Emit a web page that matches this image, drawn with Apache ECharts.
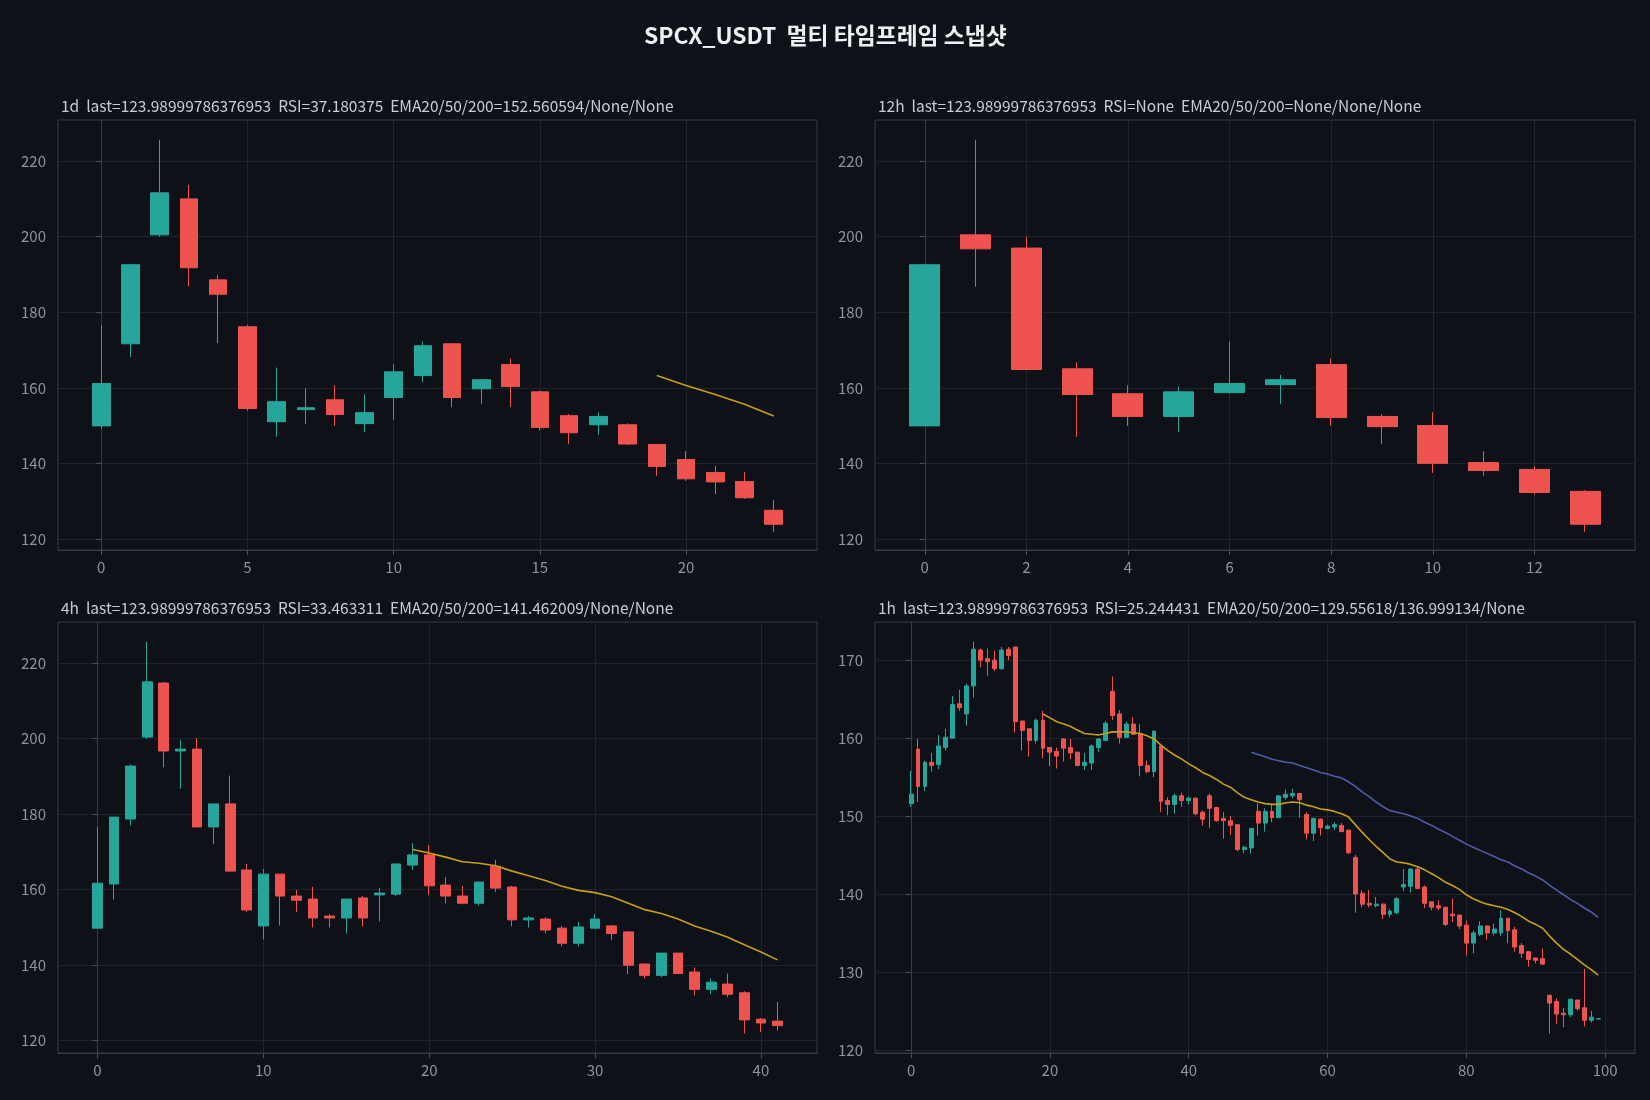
<!DOCTYPE html>
<html>
<head>
<meta charset="utf-8">
<title>SPCX_USDT multi timeframe</title>
<script src="https://cdn.jsdelivr.net/npm/echarts@6/dist/echarts.min.js"></script>
<style>
  html, body { margin: 0; padding: 0; background: #0e1117; }
  #chart { width: 1650px; height: 1100px; }
</style>
</head>
<body>
<div id="chart"></div>
<script>
// candles are [open, close, low, high], x = row index
const candles1d = [
  [150.0, 161.2, 149.3, 176.6], [171.7, 192.6, 168.2, 192.8], [200.5, 211.6, 200.0, 225.6],
  [210.0, 191.8, 186.9, 213.7], [188.6, 184.8, 171.9, 189.9], [176.2, 154.6, 154.0, 176.7],
  [151.1, 156.4, 147.1, 165.4], [154.3, 154.8, 150.5, 159.9], [156.9, 153.0, 150.0, 160.7],
  [150.6, 153.5, 148.4, 158.3], [157.5, 164.3, 151.6, 166.3], [163.3, 171.2, 161.6, 172.3],
  [171.7, 157.5, 155.0, 171.8], [159.8, 162.2, 155.8, 162.4], [166.2, 160.4, 155.0, 167.8],
  [159.0, 149.6, 148.8, 159.3], [152.7, 148.2, 145.2, 153.1], [150.3, 152.5, 147.6, 153.6],
  [150.3, 145.2, 144.9, 150.7], [145.1, 139.3, 136.8, 145.2], [141.1, 136.0, 135.5, 143.3],
  [137.7, 135.2, 132.0, 139.4], [135.3, 131.0, 130.7, 137.8], [127.7, 124.0, 122.0, 130.4]
];
const ema20_1d_start = 19;
const ema20_1d = [163.3, 160.7, 158.3, 155.7, 152.6];

const candles12h = [
  [150.0, 192.6, 150.0, 192.8], [200.5, 196.8, 186.8, 225.6], [197.0, 164.9, 164.9, 200.0],
  [165.1, 158.3, 147.1, 166.8], [158.5, 152.5, 150.0, 160.7], [152.5, 159.0, 148.4, 160.4],
  [158.8, 161.2, 158.5, 172.3], [160.9, 162.2, 155.8, 163.5], [166.2, 152.2, 150.0, 167.8],
  [152.5, 149.8, 145.2, 153.1], [150.1, 140.1, 137.6, 153.6], [140.3, 138.2, 136.8, 143.3],
  [138.5, 132.4, 131.8, 139.4], [132.7, 124.0, 122.0, 133.0]
];

const candles4h = [
  [149.8, 161.7, 149.8, 176.6], [161.5, 179.2, 157.4, 179.2], [178.7, 192.7, 177.0, 193.1],
  [200.4, 215.0, 199.9, 225.6], [214.7, 196.7, 192.4, 215.0], [196.7, 197.2, 186.7, 199.7],
  [197.2, 176.6, 176.6, 200.1], [176.6, 182.7, 172.0, 182.7], [182.7, 164.9, 164.9, 190.2],
  [165.2, 154.6, 154.1, 166.8], [150.4, 164.1, 146.8, 165.5], [164.1, 158.3, 150.5, 164.1],
  [158.3, 157.2, 154.1, 159.9], [157.5, 152.5, 150.0, 160.7], [153.0, 152.5, 150.0, 153.5],
  [152.5, 157.5, 148.4, 157.5], [157.8, 152.5, 150.3, 158.3], [158.6, 159.1, 151.6, 160.4],
  [158.8, 166.8, 158.3, 166.8], [166.5, 169.2, 165.2, 172.3], [169.2, 161.0, 158.6, 171.8],
  [161.2, 158.3, 156.4, 163.3], [158.3, 156.4, 156.1, 161.0], [156.4, 162.0, 155.8, 162.0],
  [166.2, 160.4, 159.4, 167.9], [160.7, 152.0, 150.3, 161.0], [152.0, 152.5, 150.0, 153.0],
  [152.2, 149.3, 148.4, 152.7], [149.8, 145.8, 145.0, 150.4], [145.8, 150.1, 145.0, 151.4],
  [149.8, 152.2, 149.8, 153.5], [150.4, 148.4, 146.6, 150.6], [148.8, 140.0, 137.6, 149.0],
  [140.3, 137.3, 136.5, 140.3], [137.3, 143.2, 136.8, 143.2], [143.2, 137.8, 137.8, 143.2],
  [138.2, 133.6, 132.0, 139.4], [133.6, 135.5, 132.3, 136.5], [135.0, 132.3, 131.5, 137.8],
  [132.7, 125.5, 121.9, 133.1], [125.7, 124.7, 122.3, 126.0], [125.2, 124.0, 122.7, 130.3]
];
const ema20_4h_start = 19;
const ema20_4h = [
  170.6, 169.7, 168.6, 167.4, 167.0, 166.3, 164.9, 163.7, 162.4, 160.9, 159.8, 159.2,
  158.1, 156.4, 154.7, 153.7, 152.2, 150.4, 149.0, 147.4, 145.4, 143.5, 141.4
];

const candles1h = [
  [151.6, 152.8, 151.2, 155.8], [158.6, 153.8, 151.8, 159.9], [153.8, 156.9, 153.2, 157.1],
  [156.9, 156.5, 155.7, 158.1], [156.6, 159.0, 156.0, 160.4], [158.8, 160.1, 158.4, 161.2],
  [160.0, 164.3, 160.0, 165.4], [164.4, 163.9, 163.5, 166.2], [163.1, 166.7, 161.6, 167.0],
  [166.7, 171.4, 165.2, 172.4], [171.3, 170.0, 169.1, 171.5], [170.2, 169.8, 168.0, 171.5],
  [170.0, 168.9, 168.6, 171.2], [168.9, 171.3, 168.8, 171.7], [171.4, 170.6, 170.0, 171.7],
  [171.7, 162.1, 160.7, 171.7], [162.2, 161.0, 158.4, 162.2], [161.2, 159.7, 157.6, 161.2],
  [159.7, 162.3, 159.3, 162.5], [162.3, 158.7, 157.4, 163.5], [158.8, 158.2, 156.4, 158.8],
  [158.3, 157.7, 156.1, 158.8], [159.9, 158.7, 157.0, 160.0], [158.8, 158.1, 157.3, 159.9],
  [158.2, 156.5, 156.4, 158.2], [156.5, 156.9, 155.9, 158.1], [156.8, 159.0, 155.9, 159.2],
  [158.8, 159.9, 158.2, 160.0], [159.7, 161.9, 159.6, 162.2], [166.0, 162.9, 162.3, 167.9],
  [163.1, 160.1, 159.3, 163.6], [160.1, 161.8, 160.0, 162.1], [161.8, 160.5, 160.4, 162.7],
  [160.6, 156.5, 155.1, 161.8], [156.5, 155.7, 155.5, 157.1], [155.7, 160.9, 155.0, 160.9],
  [159.0, 151.9, 150.5, 159.0], [152.0, 151.5, 150.1, 152.4], [151.5, 152.6, 150.3, 152.9],
  [152.6, 152.0, 151.2, 153.0], [152.0, 152.3, 151.5, 152.5], [152.3, 150.3, 150.1, 152.4],
  [150.5, 149.6, 148.8, 150.7], [152.6, 151.0, 148.5, 152.9], [151.1, 149.4, 149.3, 151.2],
  [149.7, 149.4, 147.1, 150.5], [149.4, 148.8, 147.6, 150.0], [148.9, 145.7, 145.5, 148.9],
  [145.7, 146.0, 145.2, 146.2], [145.9, 148.4, 145.2, 148.5], [150.6, 149.1, 147.5, 151.6],
  [149.1, 150.6, 148.0, 151.0], [150.6, 149.8, 149.2, 151.5], [149.8, 152.6, 149.8, 152.6],
  [152.4, 152.8, 152.1, 153.4], [152.6, 152.9, 152.3, 153.5], [152.9, 152.1, 149.8, 152.9],
  [150.2, 147.8, 147.0, 150.5], [147.8, 149.7, 146.8, 149.8], [149.6, 148.5, 147.5, 149.7],
  [148.4, 148.7, 148.4, 148.9], [148.6, 148.9, 148.2, 149.2], [148.8, 148.0, 148.0, 149.1],
  [148.2, 145.3, 145.1, 148.2], [144.7, 140.0, 137.6, 145.0], [140.1, 138.7, 138.3, 140.5],
  [138.8, 138.6, 138.3, 140.5], [138.5, 138.7, 138.3, 139.6], [138.7, 137.4, 136.8, 138.8],
  [137.4, 137.8, 137.0, 138.1], [137.6, 139.4, 137.4, 139.6], [140.9, 141.2, 140.4, 143.2],
  [141.0, 143.2, 140.2, 143.3], [143.2, 140.7, 140.6, 143.5], [140.9, 138.8, 138.2, 141.1],
  [139.0, 138.3, 137.9, 139.0], [138.5, 138.2, 137.9, 139.2], [138.3, 136.1, 135.9, 138.3],
  [137.4, 137.2, 136.4, 139.4], [137.3, 135.9, 135.5, 137.3], [136.0, 133.7, 132.1, 136.6],
  [133.7, 135.0, 132.4, 135.3], [134.8, 135.9, 134.6, 136.5], [135.9, 135.0, 134.1, 136.0],
  [135.0, 135.5, 134.7, 136.2], [135.0, 136.9, 134.6, 137.9], [136.9, 135.3, 133.7, 136.9],
  [135.4, 133.2, 132.6, 135.8], [133.4, 132.4, 131.8, 133.7], [132.6, 131.6, 130.7, 132.6],
  [131.8, 131.5, 131.1, 131.8], [131.7, 131.0, 131.0, 133.0], [127.0, 126.0, 122.1, 127.1],
  [126.2, 124.6, 123.3, 126.6], [124.7, 124.5, 122.9, 125.4], [124.5, 126.5, 124.2, 126.5],
  [126.4, 125.3, 125.0, 126.4], [125.4, 123.8, 123.0, 130.4], [123.8, 124.2, 123.5, 125.0],
  [123.97, 123.99, 123.97, 124.0]
];
const ema20_1h_start = 19;
const ema20_1h = [
  163.1, 162.6, 162.1, 161.8, 161.5, 161.0, 160.6, 160.5, 160.4, 160.6, 160.8, 160.8,
  160.8, 160.7, 160.6, 160.3, 159.9, 159.1, 158.4, 157.8, 157.3, 156.7, 156.2, 155.6,
  155.2, 154.7, 154.1, 153.7, 153.0, 152.4, 152.1, 151.8, 151.6, 151.5, 151.5, 151.7,
  151.8, 151.7, 151.4, 151.2, 150.9, 150.8, 150.6, 150.3, 149.9, 148.9, 147.9, 147.0,
  146.1, 145.3, 144.5, 144.1, 144.0, 143.8, 143.5, 143.1, 142.6, 142.1, 141.5, 141.1,
  140.6, 139.9, 139.4, 139.0, 138.7, 138.5, 138.3, 138.0, 137.6, 137.1, 136.5, 136.1,
  135.6, 134.6, 133.7, 132.9, 132.3, 131.6, 130.9, 130.3, 129.6
];
const ema50_1h_start = 49;
const ema50_1h = [
  158.2, 157.9, 157.6, 157.3, 157.1, 156.9, 156.8, 156.5, 156.2, 155.9, 155.6, 155.4,
  155.1, 154.9, 154.4, 153.8, 153.1, 152.5, 151.8, 151.2, 150.7, 150.5, 150.3, 150.0,
  149.7, 149.2, 148.8, 148.3, 147.9, 147.4, 146.9, 146.4, 146.0, 145.6, 145.2, 144.8,
  144.4, 144.1, 143.6, 143.2, 142.7, 142.3, 141.8, 141.1, 140.5, 139.9, 139.3, 138.8,
  138.2, 137.7, 137.0
];

const mainTitle = 'SPCX_USDT  멀티 타임프레임 스냅샷';
const subTitles = [
  '1d  last=123.98999786376953  RSI=37.180375  EMA20/50/200=152.560594/None/None',
  '12h  last=123.98999786376953  RSI=None  EMA20/50/200=None/None/None',
  '4h  last=123.98999786376953  RSI=33.463311  EMA20/50/200=141.462009/None/None',
  '1h  last=123.98999786376953  RSI=25.244431  EMA20/50/200=129.55618/136.999134/None'
];
const xTicks = [[0, 5, 10, 15, 20], [0, 2, 4, 6, 8, 10, 12], [0, 10, 20, 30, 40], [0, 20, 40, 60, 80, 100]];
const yTicks = [
  [120, 140, 160, 180, 200, 220], [120, 140, 160, 180, 200, 220],
  [120, 140, 160, 180, 200, 220], [120, 130, 140, 150, 160, 170]
];

const UP = '#26a69a';
const DOWN = '#ef5350';
const FONT = '"Noto Sans CJK KR", "Noto Sans", sans-serif';

// panel layout (px) and axis extents
const panels = [
  { left: 58, top: 120, width: 759, height: 430, xMin: -1.48, xMax: 24.48, xStep: 5, yMin: 117.2, yMax: 230.85, yStep: 20, barW: 18, titleTop: 93 },
  { left: 875, top: 120, width: 760, height: 430, xMin: -0.98, xMax: 13.98, xStep: 2, yMin: 117.2, yMax: 230.85, yStep: 20, barW: 30.5, titleTop: 93 },
  { left: 58, top: 622, width: 759, height: 431, xMin: -2.38, xMax: 43.38, xStep: 10, yMin: 116.75, yMax: 230.85, yStep: 20, barW: 10.2, titleTop: 595 },
  { left: 875, top: 622, width: 760, height: 431, xMin: -5.2, xMax: 104.3, xStep: 20, yMin: 119.6, yMax: 174.9, yStep: 10, barW: 4.4, titleTop: 595 }
];
const candleSets = [candles1d, candles12h, candles4h, candles1h];

const toItems = rows => rows.map((r, i) => [i, r[0], r[1], r[2], r[3]]);
const toLine = (start, vals) => vals.map((v, i) => [start + i, v]);

const grids = panels.map(p => ({
  left: p.left, top: p.top, width: p.width, height: p.height,
  show: true, borderColor: '#363b44', borderWidth: 1, backgroundColor: 'transparent'
}));

const xAxes = panels.map((p, k) => ({
  type: 'value', gridIndex: k, min: p.xMin, max: p.xMax,
  minInterval: p.xStep, maxInterval: p.xStep,
  axisLine: { show: true, onZero: false, lineStyle: { color: '#363b44' } },
  axisTick: { show: true, length: 5, lineStyle: { color: '#4a505a' }, customValues: xTicks[k] },
  axisLabel: { color: '#8f949c', fontSize: 15, fontFamily: FONT, margin: 10, customValues: xTicks[k] },
  splitLine: { show: true, lineStyle: { color: '#1f232a', width: 1 } }
}));

const yAxes = panels.map((p, k) => ({
  type: 'value', gridIndex: k, min: p.yMin, max: p.yMax,
  minInterval: p.yStep, maxInterval: p.yStep,
  axisLine: { show: true, lineStyle: { color: '#363b44' } },
  axisTick: { show: true, length: 5, lineStyle: { color: '#4a505a' }, customValues: yTicks[k] },
  axisLabel: { color: '#8f949c', fontSize: 15, fontFamily: FONT, margin: 12, customValues: yTicks[k] },
  splitLine: { show: true, lineStyle: { color: '#1f232a', width: 1 } }
}));

const series = candleSets.map((rows, k) => ({
  type: 'candlestick', xAxisIndex: k, yAxisIndex: k,
  data: toItems(rows),
  encode: { x: 0, y: [1, 2, 3, 4] },
  barWidth: panels[k].barW,
  itemStyle: { color: UP, color0: DOWN, borderColor: UP, borderColor0: DOWN, borderWidth: 1 }
}));

const emaLine = (k, start, vals, color) => ({
  type: 'line', xAxisIndex: k, yAxisIndex: k,
  data: toLine(start, vals),
  showSymbol: false, symbol: 'none', smooth: false,
  lineStyle: { color: color, width: 1.6 }, z: 3
});

series.push(emaLine(0, ema20_1d_start, ema20_1d, '#c9a010'));
series.push(emaLine(2, ema20_4h_start, ema20_4h, '#c9a010'));
series.push(emaLine(3, ema20_1h_start, ema20_1h, '#c9a010'));
series.push(emaLine(3, ema50_1h_start, ema50_1h, '#4e5ca8'));

const titles = [{
  text: mainTitle, left: 639, top: 19,
  textStyle: { color: '#eef0f3', fontSize: 22.8, fontWeight: 'bold', fontFamily: FONT }
}].concat(panels.map((p, k) => ({
  text: subTitles[k], left: p.left - 2, top: p.titleTop,
  textStyle: { color: '#c9cdd3', fontSize: 15.5, fontWeight: 'normal', fontFamily: FONT }
})));

const chart = echarts.init(document.getElementById('chart'));
chart.setOption({
  backgroundColor: '#0e1117',
  animation: false,
  title: titles,
  grid: grids,
  xAxis: xAxes,
  yAxis: yAxes,
  series: series
});
window.onresize = () => chart.resize();
</script>
</body>
</html>
